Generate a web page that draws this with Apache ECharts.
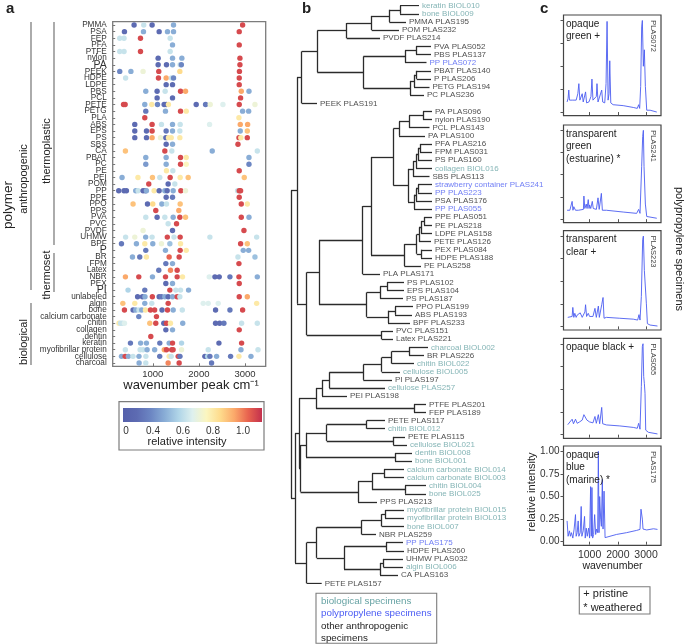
<!DOCTYPE html>
<html><head><meta charset="utf-8">
<script src="https://cdn.jsdelivr.net/npm/echarts@6/dist/echarts.min.js"></script>
<style>html,body{margin:0;padding:0;background:#fff}#c{width:685px;height:644px}</style>
</head><body><div id="c"></div><script>
const FONT = 'Liberation Sans, Arial, sans-serif';

// ---------- panel a data ----------
const rowNames = ['PMMA','PSA','FEP','PFA','PTFE','nylon','PA','PEEK','HDPE','LDPE','PBS','PCL','PETE','PETG','PLA','ABS','EPS','PS','SBS','CA','PBAT','PC','PE','PEI','POM','PP','PPE','PPO','PPS','PVA','PVC','PVDF','UHMW','BPF','P','BR','FPM','Latex','NBR','PEX','PI','unlabeled','algin','bone','calcium carbonate','chitin','collagen','dentin','keratin','myofibrillar protein','cellulose','charcoal'];
// [wavenumber, relative intensity] per row
const rowPeaks = [
 [[594,0.1],[804,0.45],[985,0.1],[1450,0.3],[2949,0.95]],
 [[385,0.1],[798,0.3],[1138,0.1],[1319,0.3],[1450,0.3],[2876,0.95]],
 [[283,0.45],[376,0.45],[733,0.95],[1377,0.45]],
 [[1428,0.3],[2876,0.95]],
 [[283,0.45],[376,0.45],[733,0.95],[1377,0.45]],
 [[1116,0.1],[1428,0.3],[1631,0.3],[2891,0.95]],
 [[1116,0.1],[1297,0.1],[1428,0.3],[1594,0.45],[1620,0.2],[2891,0.95]],
 [[283,0.2],[525,0.3],[789,0.55],[1130,0.95],[1587,0.7],[2880,0.95]],
 [[410,0.45],[1123,0.95],[1290,0.8],[1406,0.45],[1450,0.2],[2876,0.95]],
 [[1290,0.1],[1428,0.1],[2876,0.95]],
 [[848,0.3],[1094,0.1],[1268,0.45],[1602,0.95],[1710,0.8],[2920,0.8],[3087,0.3]],
 [[1094,0.1],[1428,0.1],[2905,0.95]],
 [[365,0.95],[400,0.95],[826,0.3],[978,0.65],[1102,0.2],[1246,0.1],[1290,0.1],[1340,0.65],[1942,0.1],[2145,0.15],[2246,0.55],[2522,0.5],[2876,0.95],[3217,0.55]],
 [[848,0.15],[1275,0.3],[1602,0.95],[1725,0.65],[2949,0.3],[3080,0.3]],
 [[826,0.95],[2869,0.65]],
 [[609,0.1],[985,0.95],[1188,0.45],[1428,0.3],[1594,0.45],[2232,0.5],[2898,0.8],[3058,0.8]],
 [[609,0.1],[863,0.1],[985,0.95],[1290,0.15],[1428,0.3],[1587,0.45],[2898,0.3],[3051,0.75]],
 [[609,0.1],[863,0.1],[985,0.8],[1167,0.55],[1283,0.1],[1340,0.65],[1400,0.65],[1587,0.65],[2870,0.95],[2910,0.65],[3051,0.95]],
 [[1290,0.1],[1428,0.3],[2848,0.95]],
 [[406,0.75],[1261,0.95],[1413,0.45],[2290,0.3],[3268,0.45]],
 [[848,0.3],[1290,0.3],[1602,0.95],[1725,0.65],[3087,0.3]],
 [[848,0.25],[1290,0.3],[1602,0.95],[1725,0.6],[3087,0.2]],
 [[1297,0.65],[1435,0.45],[2876,0.95]],
 [[333,0.3],[678,0.65],[993,0.75],[1152,0.45],[1377,0.95],[1594,0.65],[1768,0.75],[2985,0.75]],
 [[913,0.95],[1333,0.1],[1478,0.45]],
 [[261,0.1],[376,0.1],[428,0.1],[630,0.3],[681,0.45],[789,0.1],[841,0.1],[862,0.3],[1029,0.65],[1138,0.1],[1261,0.3],[1312,0.1],[1442,0.3],[1609,0.95],[1710,0.55],[2840,0.45],[2876,0.95],[2905,0.95]],
 [[1290,0.1],[1428,0.15],[2876,0.95]],
 [[572,0.75],[885,0.1],[1000,0.7],[1196,0.3],[1297,0.45],[1594,0.75],[2920,0.95],[3051,0.65]],
 [[1065,0.95],[1565,0.8]],
 [[848,0.45],[1094,0.1],[1261,0.45],[1442,0.3],[1587,0.95],[1710,0.75],[2920,0.95],[3087,0.3]],
 [[1333,0.45],[1515,0.95]],
 [[789,0.55],[1428,0.1],[2978,0.95]],
 [[410,0.45],[609,0.55],[845,0.3],[985,0.45],[1315,0.95],[1460,0.45],[1594,0.95],[2239,0.45],[3254,0.45]],
 [[320,0.15],[645,0.3],[826,0.65],[1000,0.3],[1188,0.55],[1370,0.35],[1602,0.65],[2905,0.95],[3051,0.75]],
 [[848,0.15],[1275,0.3],[1594,0.95],[1725,0.65],[2963,0.3],[3080,0.3]],
 [[559,0.3],[717,0.15],[862,0.65],[1355,0.9],[1572,0.95],[2848,0.45],[3217,0.35]],
 [[1283,0.15],[1428,0.3],[2869,0.95]],
 [[1130,0.15],[1384,0.85],[1529,0.95]],
 [[406,0.8],[696,0.95],[993,0.3],[1276,0.95],[1529,0.95],[1645,0.65],[2225,0.5],[2348,0.1],[2442,0.1],[2674,0.15],[2869,0.95],[3268,0.3]],
 [[1283,0.1],[1428,0.3],[2876,0.95]],
 [[463,0.4],[826,0.15],[1370,0.95],[1500,0.45],[1602,0.45],[1776,0.3]],
 [[670,0.1],[776,0.1],[830,0.3],[990,0.95],[1138,0.1],[1188,0.15],[1261,0.3],[1333,0.1],[1428,0.3],[1529,0.95],[1587,0.45],[2876,0.95],[3051,0.8]],
 [[350,0.75],[609,0.65],[826,0.3],[978,0.45],[1333,0.95],[2094,0.5],[2203,0.5],[2420,0.5],[3254,0.65]],
 [[385,0.95],[572,0.1],[630,0.3],[700,0.45],[760,0.3],[841,0.65],[950,0.95],[1040,0.95],[1200,0.1],[1319,0.95],[1442,0.3],[1640,0.45],[2362,0.1],[2674,0.15],[2949,0.95]],
 [[696,0.2],[1080,0.95]],
 [[268,0.65],[300,0.45],[340,0.45],[385,0.5],[935,0.75],[1065,0.95],[1239,0.1],[1297,0.95],[1384,0.65],[1650,0.3],[2362,0.1],[2450,0.1],[2543,0.15],[2927,0.45],[3268,0.45]],
 [[1283,0.1],[1428,0.3],[2876,0.95]],
 [[957,0.95]],
 [[515,0.15],[735,0.3],[862,0.3],[1152,0.15],[1355,0.3],[1428,0.95],[1624,0.4],[2435,0.1],[2927,0.95]],
 [[405,0.45],[725,0.45],[790,0.45],[877,0.3],[1040,0.3],[1250,0.8],[1297,0.95],[1410,0.95],[1440,0.95],[1624,0.55],[2203,0.45],[2913,0.3],[3283,0.45]],
 [[320,0.3],[400,0.95],[470,0.3],[570,0.45],[700,0.3],[850,0.45],[1150,0.15],[1355,0.65],[1400,0.45],[1551,0.95],[1590,0.15],[2130,0.1],[2190,0.4],[2239,0.15],[2384,0.3],[2688,0.15],[2869,0.65],[3130,0.3]],
 [[703,0.3],[848,0.45],[1333,0.85],[1572,0.95],[2275,0.15]]
];
const xTicksA = [1000, 2000, 3000];
const cbarLabels = ['0', '0.4', '0.6', '0.8', '1.0'];
const rampColors = ['#5560ab','#5d6bb2','#6c86c3','#89add6','#b0d5e8','#def0ee','#fbf6c0','#fedb8c','#fba96a','#e8634f','#c3304d'];

// ---------- panel b data (dendrogram) ----------
const leafNames = ['keratin BIOL010','bone BIOL009','PMMA PLAS195','POM PLAS232','PVDF PLAS214','PVA PLAS052','PBS PLAS137','PP PLAS072','PBAT PLAS140','P PLAS206','PETG PLAS194','PC PLAS236','PEEK PLAS191','PA PLAS096','nylon PLAS190','PCL PLAS143','PA PLAS100','PFA PLAS216','FPM PLAS031','PS PLAS160','collagen BIOL016','SBS PLAS113','strawberry container PLAS241','PP PLAS223','PSA PLAS176','PP PLAS055','PPE PLAS051','PE PLAS218','LDPE PLAS158','PETE PLAS126','PEX PLAS084','HDPE PLAS188','PE PLAS258','PLA PLAS171','PS PLAS102','EPS PLAS104','PS PLAS187','PPO PLAS199','ABS PLAS193','BPF PLAS233','PVC PLAS151','Latex PLAS221','charcoal BIOL002','BR PLAS226','chitin BIOL022','cellulose BIOL005','PI PLAS197','cellulose PLAS257','PEI PLAS198','PTFE PLAS201','FEP PLAS189','PETE PLAS117','chitin BIOL012','PETE PLAS115','cellulose BIOL021','dentin BIOL008','bone BIOL001','calcium carbonate BIOL014','calcium carbonate BIOL003','chitin BIOL004','bone BIOL025','PPS PLAS213','myofibrillar protein BIOL015','myofibrillar protein BIOL013','bone BIOL007','NBR PLAS259','PP PLAS175','HDPE PLAS260','UHMW PLAS032','algin BIOL006','CA PLAS163','PETE PLAS157'];
const leafType = ['b','b','o','o','o','o','o','p','o','o','o','o','o','o','o','o','o','o','o','o','b','o','p','p','o','p','o','o','o','o','o','o','o','o','o','o','o','o','o','o','o','o','b','o','b','b','o','b','o','o','o','o','b','o','b','b','b','b','b','b','b','o','b','b','b','o','p','o','o','b','o','o'];
const leafDist = [129,129,116,109,90,141,141,136.5,141,141,139.5,134,27,142,142,139.5,135,142,142,142,142,139.5,142,142,142,142,142,142,142,141,142,142,131,90,114,114,113,123,122,120,103,103,138,134,124,110,102,95,57,136,136,95,95,115,117,122,122,114,114,136,136,87,114,114,114,86,113,114,113,113,108,31.7];
const mergeA = [0,'m0','m1','m2',5,'m4',8,'m6','m7','m5','m3','m10',13,'m12','m13',17,'m15','m16','m17',22,'m19','m20','m18','m14',26,'m24','m25',30,'m26','m28','m23','m30',34,'m32',37,'m34','m33','m31',40,'m37','m11',42,'m41','m42','m43','m44','m45',49,'m46',51,53,'m49',55,'m51',57,59,'m54','m56','m53','m48',62,'m60','m61',66,68,'m64','m63','m62','m67','m59','m40'];
const mergeB = [1,2,3,4,6,7,9,10,11,'m8','m9',12,14,15,16,18,19,20,21,23,24,25,'m21','m22',27,28,29,31,'m27',32,'m29',33,35,36,38,39,'m35','m36',41,'m38','m39',43,44,45,46,47,48,50,'m47',52,54,'m50',56,'m52',58,60,'m55',61,'m57','m58',63,64,65,67,69,70,'m65','m66',71,'m68','m69'];
const mergeX = [110,99.3,81.7,56.7,126,115,126.7,124,120,73.3,27.3,11.7,133,119,109,130,128,126,123,128,126,124,118,103.3,134,131,129,131,126.7,114.3,81,72.7,97,90,105,98,76.7,29,91.7,16.7,7,119,101.7,91.7,73.3,39.3,32,124,26,76.7,103.3,36.7,105,16,94,115,82,68,10.5,9,95,91.7,71.7,96,93.3,90,54,26.7,16.7,5,1];
const typeColor = {b:'#67a3a4', p:'#4b5cf3', o:'#222'};

// ---------- panel c data (spectra) ----------
const spec072 = [[202,0.11],[238,0.15],[262,0.24],[286,0.13],[345,0.11],[405,0.13],[464,0.11],[524,0.13],[583,0.20],[619,0.31],[655,0.13],[702,0.14],[738,0.20],[774,0.11],[833,0.13],[857,0.22],[893,0.10],[976,0.11],[1048,0.17],[1083,0.36],[1119,0.13],[1179,0.11],[1238,0.17],[1262,0.31],[1298,0.11],[1357,0.12],[1429,0.24],[1464,0.11],[1536,0.10],[1583,0.31],[1619,0.99],[1655,0.13],[1690,0.20],[1714,0.56],[1750,0.10],[1833,0.08],[2190,0.07],[2548,0.05],[2690,0.04],[2738,0.08],[2774,0.04],[2810,0.28],[2845,0.93],[2869,1.0],[2905,0.50],[2940,0.68],[2976,0.28],[3024,0.02],[3143,0.02],[3381,0.0]];
const spec241 = [[202,0.10],[300,0.10],[381,0.20],[410,0.10],[440,0.14],[500,0.10],[600,0.10],[619,0.12],[660,0.10],[780,0.11],[798,0.26],[830,0.12],[881,0.17],[910,0.12],[952,0.22],[980,0.12],[1000,0.16],[1040,0.12],[1095,0.20],[1130,0.12],[1179,0.14],[1240,0.11],[1298,0.24],[1340,0.11],[1417,0.29],[1452,0.10],[1595,0.10],[2190,0.08],[2667,0.065],[2738,0.11],[2786,0.065],[2845,0.59],[2881,0.93],[2905,1.0],[2929,0.59],[2952,0.61],[2976,0.17],[3024,0.03],[3381,0.01]];
const spec223 = [[226,0.10],[381,0.11],[405,0.21],[440,0.10],[476,0.145],[524,0.10],[560,0.125],[619,0.11],[667,0.15],[738,0.10],[833,0.16],[857,0.24],[893,0.11],[952,0.145],[1000,0.11],[1060,0.125],[1119,0.11],[1190,0.20],[1238,0.10],[1310,0.225],[1345,0.10],[1429,0.24],[1476,0.32],[1512,0.09],[1595,0.10],[2071,0.09],[2548,0.08],[2702,0.07],[2750,0.13],[2786,0.07],[2833,0.33],[2881,0.96],[2905,1.0],[2940,0.62],[2976,0.64],[3012,0.25],[3048,0.03],[3143,0.015],[3405,0.004]];
const spec055 = [[226,0.11],[381,0.17],[429,0.12],[500,0.17],[560,0.125],[643,0.14],[738,0.16],[798,0.22],[833,0.24],[905,0.16],[1000,0.14],[1119,0.13],[1190,0.20],[1238,0.125],[1310,0.22],[1357,0.12],[1429,0.30],[1464,0.12],[1595,0.107],[2071,0.096],[2548,0.08],[2690,0.07],[2738,0.125],[2786,0.06],[2833,0.53],[2869,0.97],[2893,1.0],[2917,0.64],[2940,0.565],[2964,0.455],[2988,0.05],[3083,0.026],[3405,0.008]];
const spec175 = [[202,0.23],[238,0.06],[286,0.12],[321,0.06],[357,0.10],[405,0.04],[452,0.14],[500,0.30],[524,0.06],[560,0.10],[595,0.23],[619,0.06],[667,0.10],[702,0.39],[726,0.06],[774,0.12],[821,0.28],[845,0.04],[881,0.15],[917,0.06],[964,0.15],[1000,0.04],[1036,0.61],[1060,0.06],[1083,0.60],[1107,0.04],[1143,0.08],[1179,0.30],[1214,0.08],[1250,0.14],[1286,0.10],[1310,1.0],[1333,0.10],[1357,0.50],[1393,0.25],[1417,0.17],[1452,0.69],[1476,0.14],[1512,0.56],[1548,0.045],[1595,0.055],[1952,0.08],[2310,0.10],[2667,0.125],[2786,0.136],[2821,0.36],[2845,0.34],[2869,0.25],[2893,0.14],[3024,0.13],[3262,0.143],[3405,0.136]];
const spectra = [spec072, spec241, spec223, spec055, spec175];
const specIds = ['PLAS072','PLAS241','PLAS223','PLAS055','PLAS175'];
const specDesc = [['opaque','green +'],['transparent','green','(estuarine) *'],['transparent','clear +'],['opaque black +'],['opaque','blue','(marine) *']];
const specYTicks = [0, 0.25, 0.5, 0.75, 1];
const specXTicks = [1000, 2000, 3000];

// ---------- build ----------
const chart = echarts.init(document.getElementById('c'), null, {renderer:'canvas'});

const scatterData = [];
rowNames.forEach((r, i) => rowPeaks[i].forEach(p => scatterData.push([p[0], r, p[1]])));

// dendrogram geometry from linkage
const nodeX = [], nodeY = [];
function ref(c){ return typeof c === 'string' ? leafNames.length + parseInt(c.slice(1)) : c; }
leafNames.forEach((n,i)=>{ nodeX[i] = leafDist[i]; nodeY[i] = i; });
const segs = [];
mergeA.forEach((a,k)=>{
  const ia = ref(a), ib = ref(mergeB[k]), id = leafNames.length + k, X = mergeX[k];
  nodeX[id] = X; nodeY[id] = (nodeY[ia] + nodeY[ib]) / 2;
  segs.push({coords:[[X, nodeY[ia]],[X, nodeY[ib]]]});
  segs.push({coords:[[X, nodeY[ia]],[nodeX[ia], nodeY[ia]]]});
  segs.push({coords:[[X, nodeY[ib]],[nodeX[ib], nodeY[ib]]]});
});
const leafLabelData = leafNames.map((n,i)=>({name:n, value:[leafDist[i], i], label:{color:typeColor[leafType[i]]}}));

function T(x, y, text, o){
  o = o || {};
  return {type:'text', x:x, y:y, rotation:o.rot||0, silent:true, z:100,
    style:{text:text, fill:o.color||'#222', fontSize:o.size||10, fontFamily:FONT, fontWeight:o.weight||'normal',
      align:o.align||'left', verticalAlign:o.va||'middle', textAlign:o.align||'left', textVerticalAlign:o.va||'middle'}};
}
function L(x1,y1,x2,y2,c,w){ return {type:'line', silent:true, shape:{x1:x1,y1:y1,x2:x2,y2:y2}, style:{stroke:c||'#888', lineWidth:w||1.4}}; }
function R(x,y,w,h,fill,stroke,lw){ return {type:'rect', silent:true, shape:{x:x,y:y,width:w,height:h}, style:{fill:fill||'none', stroke:stroke||'none', lineWidth:lw||1}}; }

const grids = [
  {left:112.7, top:21.7, width:153, height:344.6, show:true, borderColor:'#7c7c7c', borderWidth:1.3},
  {left:290, top:5.7, width:250, height:577.6, show:false}
];
const specTops = [15, 125, 230.7, 338.3, 446];
const specHeights = [100.7, 97.7, 99.3, 100, 99.3];
specTops.forEach((t,k)=>grids.push({left:563.5, top:t, width:97.5, height:specHeights[k], show:true, borderColor:'#444', borderWidth:1.2}));

const xAxes = [
  {type:'value', gridIndex:0, min:130, max:3450, splitLine:{show:false}, axisLine:{show:false},
   axisTick:{show:true, inside:true, length:3, customValues:xTicksA, lineStyle:{color:'#777'}},
   axisLabel:{customValues:xTicksA, formatter:v=>String(v), fontSize:9.5, color:'#333', margin:3}},
  {type:'value', gridIndex:1, min:0, max:250, show:false}
];
const yAxes = [
  {type:'category', gridIndex:0, data:rowNames, inverse:true, axisLine:{show:false},
   axisTick:{show:true, inside:true, length:2.5, alignWithLabel:true, lineStyle:{color:'#777'}},
   axisLabel:{interval:0, fontSize:8.2, color:'#333', margin:6,
     formatter:v => (v==='PA'||v==='P'||v==='PI') ? '{b|'+v+'}' : v,
     rich:{b:{fontSize:10.5, color:'#333'}}}},
  {type:'value', gridIndex:1, min:0, max:71, inverse:true, show:false}
];
spectra.forEach((s,k)=>{
  const last = k === spectra.length - 1;
  xAxes.push({type:'value', gridIndex:k+2, min:75, max:3530, splitLine:{show:false}, axisLine:{show:false},
    axisTick:{show:true, length:3, customValues:specXTicks, lineStyle:{color:'#555'}},
    axisLabel:{show:last, customValues:specXTicks, formatter:v=>String(v), fontSize:10.5, color:'#333', margin:4}});
  yAxes.push({type:'value', gridIndex:k+2, min:-0.04, max:1.06, splitLine:{show:false}, axisLine:{show:false},
    axisTick:{show:true, length:3, customValues:specYTicks, lineStyle:{color:'#555'}},
    axisLabel:{show:last, customValues:specYTicks, formatter:v=>v.toFixed(2), fontSize:10, color:'#333', margin:4}});
});

const series = [
  {type:'scatter', xAxisIndex:0, yAxisIndex:0, data:scatterData, symbolSize:5.4, itemStyle:{opacity:1}, silent:true, z:3},
  {type:'lines', coordinateSystem:'cartesian2d', xAxisIndex:1, yAxisIndex:1, data:segs, silent:true,
   lineStyle:{color:'#2b2b2b', width:1.3, opacity:1}},
  {type:'scatter', xAxisIndex:1, yAxisIndex:1, data:leafLabelData, symbolSize:0, silent:true,
   label:{show:true, position:'right', distance:3, formatter:'{b}', fontSize:8, fontFamily:FONT}}
];
spectra.forEach((s,k)=>series.push({type:'line', xAxisIndex:k+2, yAxisIndex:k+2, data:s, showSymbol:false, silent:true,
  lineStyle:{color:'#4b5cf0', width:0.9}}));

const g = [];
g.push(T(6, 9, 'a', {size:15, weight:'bold'}));
g.push(T(302, 9, 'b', {size:15, weight:'bold'}));
g.push(T(540, 9, 'c', {size:15, weight:'bold'}));
g.push(L(31, 22, 31, 290)); g.push(L(54, 22, 54, 245)); g.push(L(54, 253, 54, 292)); g.push(L(31, 303, 31, 365));
g.push(T(8, 205, 'polymer', {size:13.5, rot:Math.PI/2, align:'center'}));
g.push(T(24, 179, 'anthropogenic', {size:11, rot:Math.PI/2, align:'center'}));
g.push(T(47, 151, 'thermoplastic', {size:11, rot:Math.PI/2, align:'center'}));
g.push(T(47, 275, 'thermoset', {size:11, rot:Math.PI/2, align:'center'}));
g.push(T(24, 342, 'biological', {size:11, rot:Math.PI/2, align:'center'}));
g.push(T(191, 385, 'wavenumber peak cm\u207B\u00B9', {size:13, align:'center'}));
g.push(R(119, 401.7, 145, 48.3, '#fff', '#7c7c7c', 1.2));
g.push(R(123, 408, 139, 14, {type:'linear', x:0, y:0, x2:1, y2:0,
  colorStops: rampColors.map((c,i)=>({offset:i/(rampColors.length-1), color:c}))}, 'none'));
const cbX = [126, 153, 183, 213, 243];
cbarLabels.forEach((t,i)=>g.push(T(cbX[i], 431, t, {size:10, align:'center', color:'#333'})));
g.push(T(187, 442, 'relative intensity', {size:11, align:'center'}));
g.push(R(316, 593.3, 120.7, 50, 'none', '#7c7c7c', 1.1));
g.push(T(321, 601.7, 'biological specimens', {size:9.8, color:typeColor.b}));
g.push(T(321, 613.7, 'polypropylene specimens', {size:9.8, color:typeColor.p}));
g.push(T(321, 625.9, 'other anthropogenic', {size:9.8, color:'#222'}));
g.push(T(321, 638, 'specimens', {size:9.8, color:'#222'}));
specTops.forEach((t,k)=>{
  specDesc[k].forEach((line,j)=>g.push(T(566, t + 9 + j*12.6, line, {size:10, color:'#222'})));
  g.push(T(653.5, t + 21, specIds[k], {size:7.5, rot:-Math.PI/2, align:'center', color:'#444'}));
});
g.push(T(612.5, 566, 'wavenumber', {size:10.5, align:'center'}));
g.push(T(532, 492, 'relative intensity', {size:11, rot:Math.PI/2, align:'center'}));
g.push(T(679, 249, 'polypropylene specimens', {size:11, rot:-Math.PI/2, align:'center'}));
g.push(R(579.3, 586.7, 70.7, 27.3, 'none', '#7c7c7c', 1.1));
g.push(T(583.3, 594.2, '+ pristine', {size:11}));
g.push(T(583.3, 607.6, '* weathered', {size:11}));

chart.setOption({
  animation:false,
  textStyle:{fontFamily:FONT},
  grid:grids, xAxis:xAxes, yAxis:yAxes,
  visualMap:[{type:'continuous', show:false, min:0, max:1, dimension:2, seriesIndex:0, inRange:{color:rampColors}}],
  series:series,
  graphic:{elements:g}
});
</script></body></html>
